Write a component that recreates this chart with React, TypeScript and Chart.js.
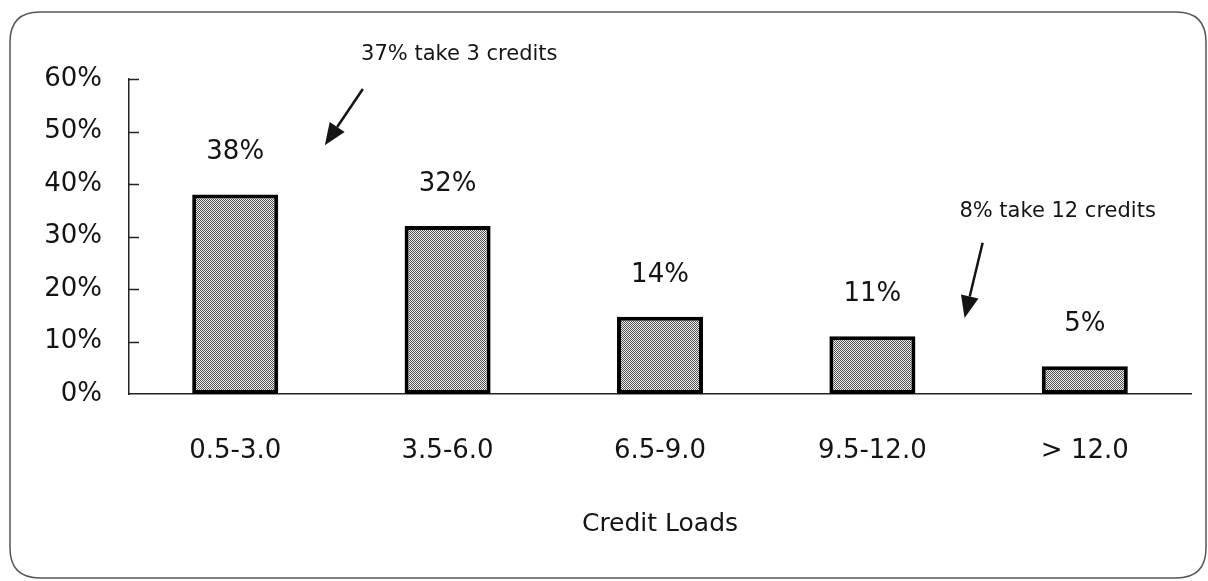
import React, { useEffect, useRef } from "react";
import { Chart, registerables } from "chart.js";

Chart.register(...registerables);

const categories = ["0.5-3.0", "3.5-6.0", "6.5-9.0", "9.5-12.0", "> 12.0"];
const values = [38, 32, 14.7, 11, 5.3];
const valueLabels = ["38%", "32%", "14%", "11%", "5%"];
const yMax = 60;
const yStep = 10;
const xTitle = "Credit Loads";

const noteTexts = ["37% take 3 credits", "8% take 12 credits"];
const noteTextX = [1.055, 3.872];
const noteTextY = [64.6, 34.7];
const arrowFromX = [0.601, 3.519];
const arrowFromY = [58.1, 28.8];
const arrowToX = [0.422, 3.434];
const arrowToY = [47.4, 14.5];

const FONT = "'DejaVu Sans', 'Noto Sans', sans-serif";
const INK = "#141414";

export default function App() {
  const ref = useRef<HTMLCanvasElement | null>(null);

  useEffect(() => {
    const canvas = ref.current;
    if (!canvas) return;
    const ctx = canvas.getContext("2d")!;

    const pc = document.createElement("canvas");
    pc.width = 2;
    pc.height = 2;
    const pctx = pc.getContext("2d")!;
    pctx.fillStyle = "#f0f0f0";
    pctx.fillRect(0, 0, 2, 2);
    pctx.fillStyle = "#505050";
    pctx.fillRect(0, 0, 1, 1);
    pctx.fillRect(1, 1, 1, 1);
    const pattern = ctx.createPattern(pc, "repeat")!;

    const framePlugin = {
      id: "frame",
      beforeDraw(chart: any) {
        const c = chart.ctx;
        c.save();
        c.fillStyle = "#ffffff";
        c.fillRect(0, 0, chart.width, chart.height);
        const x0 = 10, y0 = 12, x1 = 1206, y1 = 578, r = 30;
        c.beginPath();
        c.moveTo(x0 + r, y0);
        c.lineTo(x1 - r, y0);
        c.quadraticCurveTo(x1, y0, x1, y0 + r);
        c.lineTo(x1, y1 - r);
        c.quadraticCurveTo(x1, y1, x1 - r, y1);
        c.lineTo(x0 + r, y1);
        c.quadraticCurveTo(x0, y1, x0, y1 - r);
        c.lineTo(x0, y0 + r);
        c.quadraticCurveTo(x0, y0, x0 + r, y0);
        c.closePath();
        c.strokeStyle = "#555";
        c.lineWidth = 1.5;
        c.stroke();
        c.restore();
      },
    };

    const overlayPlugin = {
      id: "overlay",
      afterDraw(chart: any) {
        const c = chart.ctx;
        const xs = chart.scales.x;
        const ys = chart.scales.y;
        c.save();
        // inward tick marks
        c.strokeStyle = "#222";
        c.lineWidth = 1.5;
        ys.ticks.forEach((t: any) => {
          if (t.value === 0) return;
          const py = Math.round(ys.getPixelForValue(t.value)) + 0.5;
          c.beginPath();
          c.moveTo(xs.left, py);
          c.lineTo(xs.left + 10, py);
          c.stroke();
        });
        // value labels
        c.fillStyle = INK;
        c.font = `26px ${FONT}`;
        c.textAlign = "center";
        c.textBaseline = "middle";
        const meta = chart.getDatasetMeta(0);
        meta.data.forEach((bar: any, i: number) => {
          c.fillText(valueLabels[i], bar.x, bar.y - 42);
        });
        // annotations
        c.font = `21px ${FONT}`;
        noteTexts.forEach((txt, i) => {
          c.fillStyle = INK;
          c.fillText(txt, xs.getPixelForValue(noteTextX[i]), ys.getPixelForValue(noteTextY[i]));
          const fx = xs.getPixelForValue(arrowFromX[i]);
          const fy = ys.getPixelForValue(arrowFromY[i]);
          const tx = xs.getPixelForValue(arrowToX[i]);
          const ty = ys.getPixelForValue(arrowToY[i]);
          const ang = Math.atan2(ty - fy, tx - fx);
          const headLen = 22;
          const headHalf = 9;
          const bx = tx - headLen * Math.cos(ang);
          const by = ty - headLen * Math.sin(ang);
          c.strokeStyle = INK;
          c.lineWidth = 2.5;
          c.beginPath();
          c.moveTo(fx, fy);
          c.lineTo(bx, by);
          c.stroke();
          c.beginPath();
          c.moveTo(tx, ty);
          c.lineTo(bx + headHalf * Math.sin(ang), by - headHalf * Math.cos(ang));
          c.lineTo(bx - headHalf * Math.sin(ang), by + headHalf * Math.cos(ang));
          c.closePath();
          c.fillStyle = INK;
          c.fill();
        });
        c.restore();
      },
    };

    const chart = new Chart(ctx, {
      type: "bar",
      data: {
        labels: categories,
        datasets: [
          {
            data: values,
            backgroundColor: pattern,
            borderColor: "#000",
            borderWidth: 4,
            borderSkipped: false,
            categoryPercentage: 1,
            barPercentage: 0.405,
          },
        ],
      },
      options: {
        responsive: false,
        animation: false,
        events: [],
        layout: { padding: { left: 0, right: 17, top: 79, bottom: 0 } },
        plugins: {
          legend: { display: false },
          title: { display: false },
          tooltip: { enabled: false },
        },
        scales: {
          x: {
            type: "category",
            offset: true,
            grid: { display: false, drawTicks: false },
            border: { display: true, color: "#222", width: 1.5 },
            ticks: {
              color: INK,
              font: { family: FONT, size: 26 },
              padding: 42,
              maxRotation: 0,
              autoSkip: false,
            },
            title: {
              display: true,
              text: xTitle,
              color: INK,
              font: { family: FONT, size: 25 },
              padding: { top: 0, bottom: 42 },
            },
            afterFit(scale: any) {
              scale.height = 581 - 394;
            },
          },
          y: {
            min: 0,
            max: yMax,
            grid: { display: false, drawTicks: false },
            border: { display: true, color: "#222", width: 1.5 },
            ticks: {
              stepSize: yStep,
              color: INK,
              font: { family: FONT, size: 26 },
              padding: 27,
              callback: (v: any) => `${v}%`,
            },
            afterFit(scale: any) {
              scale.width = 129;
            },
          },
        },
      },
      plugins: [framePlugin, overlayPlugin],
    });

    return () => chart.destroy();
  }, []);

  return (
    <div style={{ position: "fixed", left: 0, top: 0, width: 1208, height: 581, background: "#fff" }}>
      <canvas ref={ref} width={1208} height={581} style={{ display: "block" }} />
    </div>
  );
}
